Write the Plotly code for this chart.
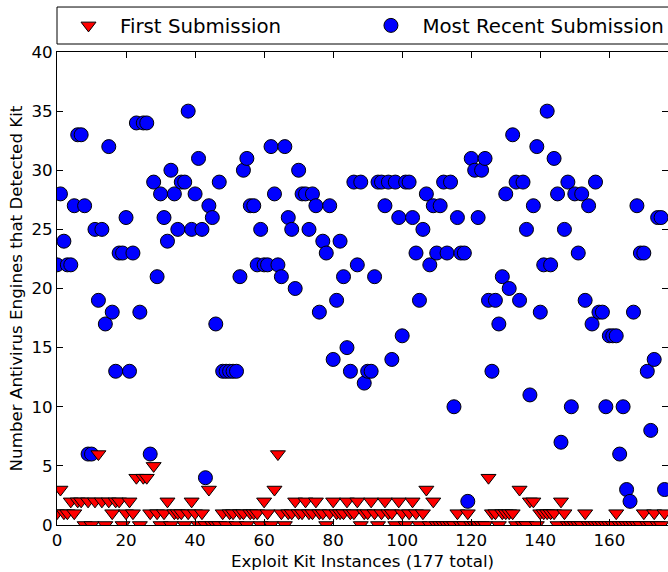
import plotly.graph_objects as go

# Most recent submission: number of AV engines detecting the kit (index 0..176)
recent = [
    22, 28, 24, 22, 22, 27, 33, 33, 27, 6,
    6, 25, 19, 25, 17, 32, 18, 13, 23, 23,
    26, 13, 23, 34, 18, 34, 34, 6, 29, 21,
    28, 26, 24, 30, 28, 25, 29, 29, 35, 25,
    28, 31, 25, 4, 27, 26, 17, 29, 13, 13,
    13, 13, 13, 21, 30, 31, 27, 27, 22, 25,
    22, 22, 32, 28, 22, 21, 32, 26, 25, 20,
    30, 28, 28, 25, 28, 27, 18, 24, 23, 27,
    14, 19, 24, 21, 15, 13, 29, 22, 29, 12,
    13, 13, 21, 29, 29, 27, 29, 14, 29, 26,
    16, 29, 29, 26, 23, 19, 25, 28, 22, 27,
    23, 27, 29, 23, 29, 10, 26, 23, 23, 2,
    31, 30, 26, 30, 31, 19, 13, 19, 17, 21,
    28, 20, 33, 29, 19, 29, 25, 11, 27, 32,
    18, 22, 35, 22, 31, 28, 7, 25, 29, 10,
    28, 23, 28, 19, 27, 17, 29, 18, 18, 10,
    16, 16, 16, 6, 10, 3, 2, 18, 27, 23,
    23, 13, 8, 14, 26, 26, 3,
]

# First submission
first = [
    1, 3, 1, 1, 2, 1, 2, 2, 0, 2,
    0, 2, 6, 2, 0, 2, 1, 2, 2, 0,
    1, 2, 1, 4, 0, 4, 4, 1, 5, 1,
    0, 1, 2, 0, 1, 1, 1, 0, 1, 2,
    1, 0, 1, 0, 3, 0, 0, 0, 1, 0,
    1, 1, 0, 1, 1, 0, 1, 1, 1, 0,
    2, 1, 0, 3, 6, 1, 0, 1, 1, 2,
    1, 1, 2, 1, 1, 2, 1, 1, 0, 1,
    2, 1, 1, 1, 2, 1, 1, 2, 0, 1,
    1, 2, 1, 0, 1, 2, 1, 1, 0, 2,
    1, 0, 1, 2, 1, 0, 1, 3, 0, 2,
    0, 0, 0, 0, 0, 0, 1, 0, 0, 1,
    0, 0, 0, 0, 0, 4, 1, 1, 0, 1,
    1, 1, 1, 0, 3, 0, 0, 2, 2, 0,
    1, 1, 1, 1, 1, 0, 2, 1, 0, 0,
    0, 0, 0, 1, 0, 0, 0, 0, 0, 0,
    0, 0, 1, 0, 0, 0, 0, 0, 0, 0,
    1, 0, 0, 1, 0, 0, 1,
]

x = list(range(len(recent)))
font = "DejaVu Sans"

fig = go.Figure()
fig.add_trace(go.Scatter(
    x=x, y=recent, mode="markers", name="Most Recent Submission",
    legend="legend2",
    marker=dict(symbol="circle", size=14, color="#0000ff",
                line=dict(color="black", width=1)),
))
fig.add_trace(go.Scatter(
    x=list(range(len(first))), y=first, mode="markers", name="First Submission",
    legend="legend",
    marker=dict(symbol="triangle-down", size=13, color="#ff0000",
                line=dict(color="black", width=1)),
))

axis_common = dict(
    showline=True, linecolor="black", linewidth=1, mirror="ticks",
    ticks="inside", ticklen=6, tickcolor="black", tickwidth=1,
    showgrid=False, zeroline=False,
    tickfont=dict(family=font, size=16.7, color="black"),
)

legend_common = dict(
    orientation="h", xanchor="left", y=1.056, yanchor="middle",
    font=dict(family=font, size=19.8, color="black"),
    bgcolor="rgba(0,0,0,0)", borderwidth=0,
    itemwidth=53, itemsizing="trace",
)

fig.update_layout(
    width=668, height=572,
    margin=dict(l=57, r=0, t=52, b=47, autoexpand=False),
    paper_bgcolor="white", plot_bgcolor="white",
    font=dict(family=font, color="black"),
    showlegend=True,
    legend=dict(x=0.0, **legend_common),
    legend2=dict(x=0.495, **legend_common),
    xaxis=dict(
        range=[0, 177], dtick=20, tick0=0,
        title=dict(text="Exploit Kit Instances (177 total)",
                   font=dict(family=font, size=16.7, color="black"), standoff=6),
        **axis_common,
    ),
    yaxis=dict(
        range=[0, 40], dtick=5, tick0=0,
        title=dict(text="Number Antivirus Engines that Detected Kit",
                   font=dict(family=font, size=16.7, color="black"), standoff=4),
        **axis_common,
    ),
    shapes=[dict(
        type="rect", xref="paper", yref="paper",
        x0=0, x1=1.01, y0=1.0169, y1=1.0951,
        line=dict(color="black", width=1), fillcolor="rgba(0,0,0,0)",
    )],
)

fig.write_html("out.html")
